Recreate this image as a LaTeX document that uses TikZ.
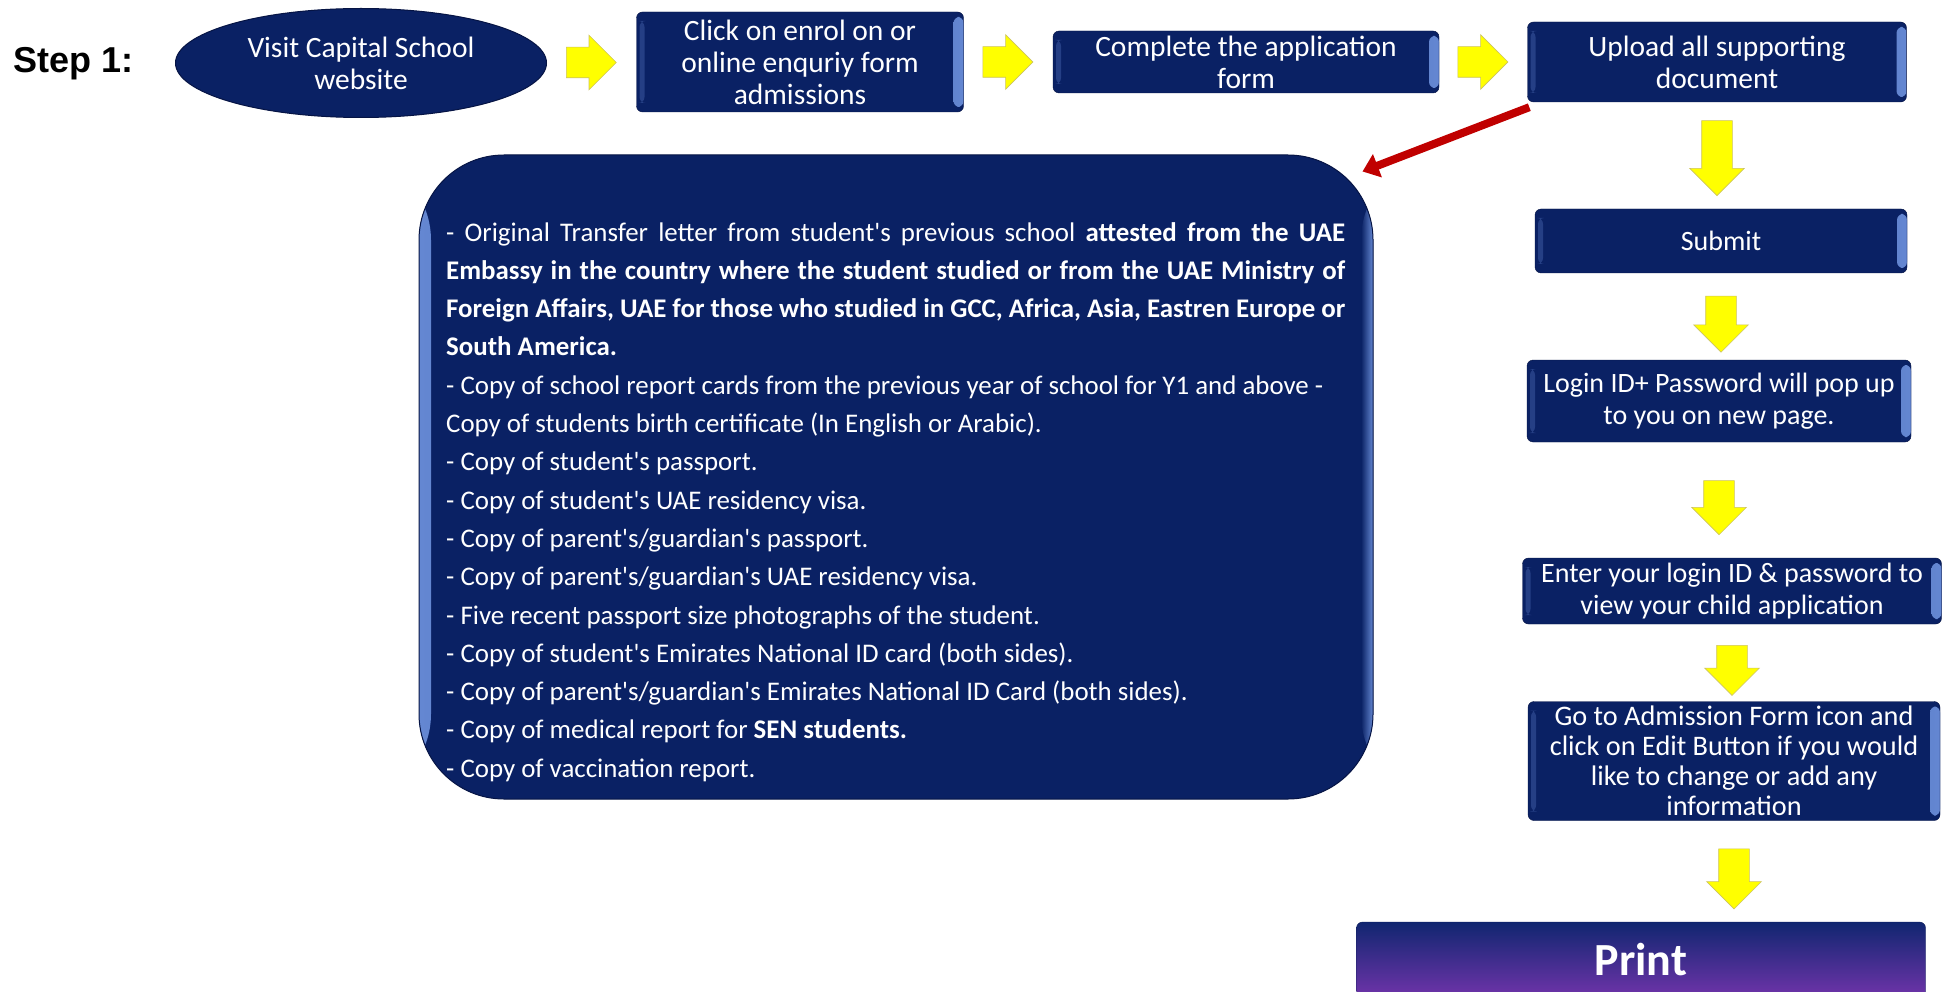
\documentclass[tikz,border=0pt]{standalone}
\usepackage{fontspec}
\setmainfont{Carlito}
\newfontfamily\steplabelfont{Liberation Sans}
\usetikzlibrary{shapes.geometric,shapes.arrows,arrows.meta,calc}

\definecolor{boxnavy}{RGB}{10,33,100}
\definecolor{boxedge}{RGB}{6,20,68}
\definecolor{bevelblue}{RGB}{100,135,210}
\definecolor{arrowyellow}{RGB}{255,255,0}
\definecolor{arrowrim}{RGB}{205,195,95}
\definecolor{pointerred}{RGB}{192,0,0}
\definecolor{printtop}{RGB}{16,38,112}
\definecolor{printbottom}{RGB}{112,52,170}

\newcommand{\infoline}[1]{\makebox[899pt][s]{#1}}
\newcommand{\ap}{\textquotesingle}

\begin{document}
\begin{tikzpicture}[x=1pt, y=-1pt]
        \tikzset{
            stepbox/.style={
                rectangle, rounded corners=6pt,
                fill=boxnavy, draw=boxedge, text=white,
                align=center, inner sep=0pt,
                font=\fontsize{28}{32}\selectfont,
                path picture={
                    % right bevel
                    \shade[left color=boxnavy, right color=bevelblue]
                        ([xshift=-10pt,yshift=-5pt]path picture bounding box.north east)
                        rectangle ([yshift=5pt]path picture bounding box.south east);
                    % left bevel
                    \fill[boxnavy!70!bevelblue]
                        ([xshift=3pt,yshift=-9pt]path picture bounding box.north west)
                        rectangle ([xshift=8pt,yshift=9pt]path picture bounding box.south west);
                },
            },
            toprow/.style={font=\fontsize{29.5}{32}\selectfont},
            infobox/.style={
                rectangle, rounded corners=85pt,
                fill=boxnavy, draw=boxedge, line width=1pt,
                path picture={
                    % light rim on both sides
                    \shade[left color=bevelblue, right color=boxnavy]
                        (path picture bounding box.north west)
                        rectangle ([xshift=12pt]path picture bounding box.south west);
                    \shade[left color=boxnavy, right color=bevelblue]
                        ([xshift=-12pt]path picture bounding box.north east)
                        rectangle (path picture bounding box.south east);
                },
            },
            yellowright/.style={
                single arrow, fill=arrowyellow, draw=arrowrim, line width=0.6pt,
                inner xsep=0pt, inner ysep=15pt, single arrow head extend=12pt,
                minimum height=50pt,
            },
            yellowdown/.style={
                yellowright, shape border rotate=270,
                inner xsep=15pt, inner ysep=0pt,
            },
            pointer/.style={
                draw=pointerred, line width=8pt,
                -{Triangle[length=16pt,width=24pt]},
            },
        }

        \fill[white] (0,0) rectangle (1948,992);
        \useasboundingbox (0,0) rectangle (1948,992);

        % top row
        \node[anchor=west, font=\steplabelfont\bfseries\fontsize{36}{40}\selectfont] (steplabel) at (10,64) {Step 1:};
        \node[ellipse, fill=boxnavy, draw=boxedge, line width=1pt, text=white,
              minimum width=371pt, minimum height=109pt, inner sep=0pt, align=center,
              font=\fontsize{29.5}{32}\selectfont] (visit) at (361,63) {Visit Capital School\\website};
        \node[stepbox, toprow, minimum width=327pt, minimum height=100pt] (enrol) at (800,62) {Click on enrol on or\\online enquriy form\\admissions};
        \node[stepbox, toprow, minimum width=386pt, minimum height=62pt] (complete) at (1246,62) {Complete the application\\form};
        \node[stepbox, toprow, minimum width=379pt, minimum height=80pt] (upload) at (1717,62) {Upload all supporting\\document};

        % right column
        \node[stepbox, minimum width=372pt, minimum height=64pt] (submit) at (1721,241) {Submit};
        \node[stepbox, minimum width=384pt, minimum height=82pt] (login) at (1719,401) {Login ID+ Password will pop up\\to you on new page.};
        \node[stepbox, minimum width=419pt, minimum height=66pt] (enter) at (1732,591) {Enter your login ID \& password to\\view your child application};
        \node[stepbox, minimum width=412pt, minimum height=119pt, font=\fontsize{28.3}{30}\selectfont] (goto) at (1734,761) {Go to Admission Form icon and\\click on Edit Button if you would\\like to change or add any\\information};
        \begin{scope}
            \clip (0,0) rectangle (1948,992);
            \node[rectangle, rounded corners=6pt, top color=printtop, bottom color=printbottom,
                  draw=printtop!80!black, text=white, minimum width=569pt, minimum height=76pt,
                  font=\bfseries\fontsize{46}{50}\selectfont] (print) at (1641,960) {Print};
        \end{scope}

        % documents box
        \node[infobox, minimum width=954pt, minimum height=644pt] (info) at (896,477) {};
        \node[anchor=north west, text=white, align=left, inner sep=0pt,
              font=\fontsize{26.9}{38.3}\selectfont] (infotext) at (446,222) {%
            \infoline{- Original Transfer letter from student\ap s previous school \textbf{attested from the UAE}}\\
            \infoline{\textbf{Embassy in the country where the student studied or from the UAE Ministry of}}\\
            \infoline{\textbf{Foreign Affairs, UAE for those who studied in GCC, Africa, Asia, Eastren Europe or}}\\
            \textbf{South America.}\\
            - Copy of school report cards from the previous year of school for Y1 and above -\\
            Copy of students birth certificate (In English or Arabic).\\
            - Copy of student\ap s passport.\\
            - Copy of student\ap s UAE residency visa.\\
            - Copy of parent\ap s/guardian\ap s passport.\\
            - Copy of parent\ap s/guardian\ap s UAE residency visa.\\
            - Five recent passport size photographs of the student.\\
            - Copy of student\ap s Emirates National ID card (both sides).\\
            - Copy of parent\ap s/guardian\ap s Emirates National ID Card (both sides).\\
            - Copy of medical report for \textbf{SEN students.}\\
            - Copy of vaccination report.};

        % yellow arrows
        \foreach \a/\b in {visit/enrol, enrol/complete, complete/upload} {
            \node[yellowright] (next-\a) at ($(\a.east)!0.5!(\b.west) + (-8,0)$) {};
        }
        \foreach \a/\b/\len/\dy in {upload/submit/75/-5, submit/login/56/0, login/enter/54/0, enter/goto/50/0, goto/print/60/0} {
            \node[yellowdown, minimum height=\len pt] (down-\a) at ($(\a.south)!0.5!(\a.south |- \b.north) + (0,\dy)$) {};
        }

        % pointer to the document list
        \draw[pointer] ([xshift=2pt,yshift=-5pt]upload.south west) -- ([xshift=-11pt,yshift=-17pt]info.north east);
\end{tikzpicture}
\end{document}
